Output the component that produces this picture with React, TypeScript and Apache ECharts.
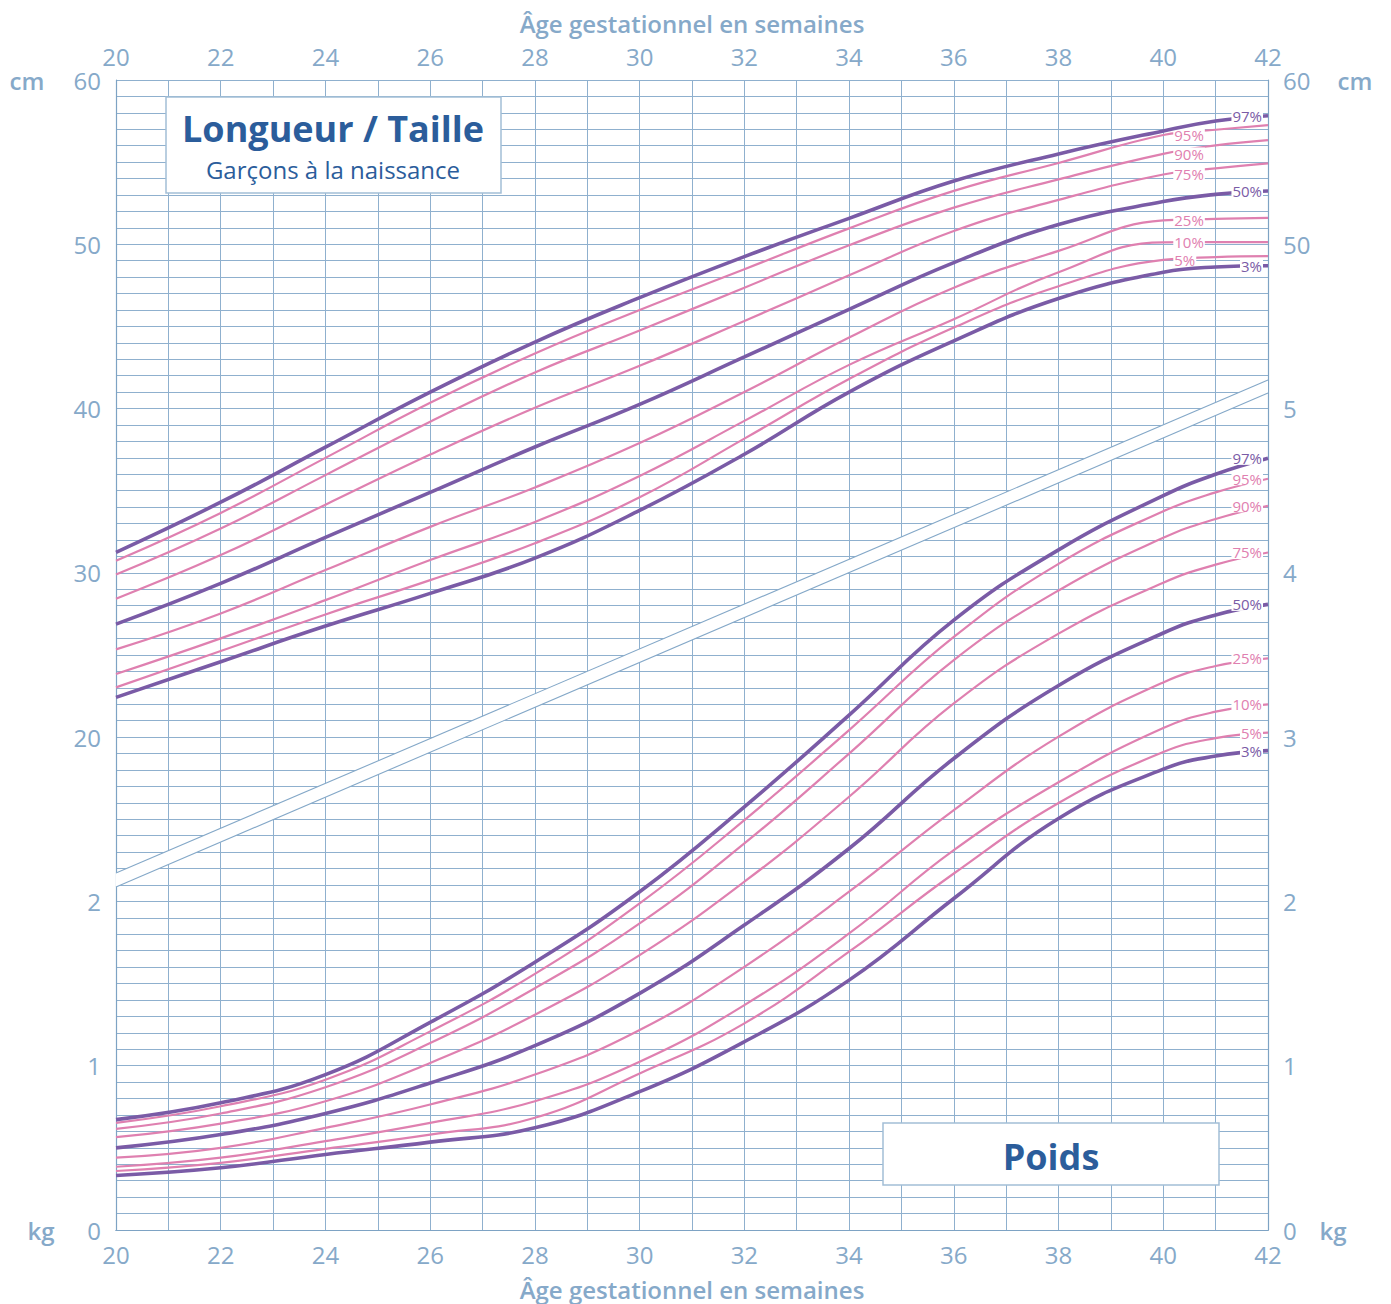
import React, { useEffect, useRef } from 'react';
import * as echarts from 'echarts';

// Gestational age (weeks) at which values were read
const weeks = [20, 22, 24, 26, 28, 30, 32, 34, 36, 38, 40, 41, 42];

// Length / Taille (cm)
const len97 = [31.25, 34.3, 37.65, 41.0, 44.05, 46.75, 49.25, 51.58, 53.85, 55.5, 56.9, 57.5, 57.82];
const len95 = [30.74, 33.65, 37.0, 40.35, 43.35, 46.0, 48.48, 50.97, 53.25, 54.95, 56.65, 56.97, 57.25];
const len90 = [29.9, 32.7, 35.95, 39.2, 42.2, 44.75, 47.36, 49.94, 52.23, 53.95, 55.5, 56.02, 56.34];
const len75 = [28.43, 31.08, 34.15, 37.2, 40.05, 42.6, 45.33, 48.11, 50.81, 52.7, 54.25, 54.62, 54.92];
const len50 = [26.88, 29.36, 32.16, 34.9, 37.66, 40.25, 43.14, 46.04, 48.88, 51.2, 52.6, 53.04, 53.24];
const len25 = [25.34, 27.53, 30.17, 32.8, 35.2, 37.9, 41.01, 44.32, 47.36, 49.6, 51.45, 51.55, 51.61];
const len10 = [23.84, 26.01, 28.34, 30.78, 33.1, 35.9, 39.25, 42.66, 45.44, 48.3, 50.12, 50.13, 50.13];
const len5 = [23.03, 25.24, 27.47, 29.56, 31.8, 34.6, 38.17, 41.8, 44.93, 47.45, 49.05, 49.22, 49.28];
const len3 = [22.42, 24.59, 26.76, 28.75, 30.9, 33.8, 37.22, 41.0, 44.12, 46.7, 48.3, 48.62, 48.69];

// Poids (kg)
const wt97 = [0.672, 0.774, 0.946, 1.264, 1.63, 2.059, 2.576, 3.134, 3.712, 4.14, 4.47, 4.6, 4.697];
const wt95 = [0.652, 0.753, 0.915, 1.209, 1.559, 1.988, 2.495, 3.043, 3.61, 4.055, 4.375, 4.49, 4.573];
const wt90 = [0.616, 0.709, 0.869, 1.138, 1.472, 1.866, 2.353, 2.9, 3.469, 3.893, 4.213, 4.328, 4.408];
const wt75 = [0.565, 0.648, 0.784, 1.017, 1.31, 1.673, 2.12, 2.637, 3.205, 3.63, 3.94, 4.05, 4.124];
const wt50 = [0.5, 0.581, 0.709, 0.895, 1.122, 1.44, 1.856, 2.322, 2.87, 3.314, 3.634, 3.744, 3.808];
const wt25 = [0.44, 0.5, 0.622, 0.764, 0.946, 1.217, 1.602, 2.059, 2.556, 3.003, 3.333, 3.433, 3.48];
const wt10 = [0.385, 0.44, 0.541, 0.652, 0.784, 1.024, 1.369, 1.805, 2.312, 2.725, 3.055, 3.155, 3.2];
const wt5 = [0.359, 0.409, 0.494, 0.581, 0.683, 0.953, 1.258, 1.694, 2.17, 2.599, 2.909, 2.994, 3.027];
const wt3 = [0.332, 0.379, 0.46, 0.535, 0.622, 0.842, 1.146, 1.521, 2.018, 2.505, 2.805, 2.885, 2.918];

const percentNames = ['97%', '95%', '90%', '75%', '50%', '25%', '10%', '5%', '3%'];
const lengthSets = [len97, len95, len90, len75, len50, len25, len10, len5, len3];
const weightSets = [wt97, wt95, wt90, wt75, wt50, wt25, wt10, wt5, wt3];
// percentile labels of the length block drawn before the end (others at the end)
const lengthInnerLabels = ['95%', '90%', '75%', '25%', '10%', '5%'];
const majorPercentiles = ['97%', '50%', '3%'];

// Tick labels on the shared vertical scale (0..7)
const leftTickLabels = ['0', '1', '2', '20', '30', '40', '50', '60'];
const rightTickLabels = ['0', '1', '2', '3', '4', '5', '50', '60'];

// Separating band (in shared units)
const bandWeeks = [20, 42];
const bandLower = [2.088, 5.095];
const bandUpper = [2.173, 5.174];

const cmToUnit = (c: number) => c / 10 + 1;

const PURPLE = '#7a5ba6';
const PINK = '#df80b0';
const GRID = '#8fb0ce';
const BORDER = '#7ea3c4';
const LABEL = '#86a9c9';
const DARK = '#2b5d9b';
const FONT = '"Open Sans", Lato, sans-serif';

function buildSeries(name: string, values: number[], isLength: boolean) {
  const major = majorPercentiles.includes(name);
  const color = major ? PURPLE : PINK;
  const inner = isLength && lengthInnerLabels.includes(name);
  const labelIndex = inner ? weeks.indexOf(40) : weeks.length - 1;
  const data = weeks.map((w, i) => {
    const v = isLength ? cmToUnit(values[i]) : values[i];
    if (i === labelIndex) {
      return {
        value: [w, v],
        label: {
          show: true,
          formatter: name,
          position: inner ? 'right' : 'left',
          distance: inner ? 10 : 5,
          color,
          fontSize: 15,
          lineHeight: 13,
          fontFamily: FONT,
          fontWeight: 400,
          backgroundColor: '#ffffff',
          padding: [0, 1, 0, 1],
        },
      };
    }
    return { value: [w, v] };
  });
  return {
    type: 'line',
    name: (isLength ? 'L' : 'W') + name,
    xAxisIndex: 0,
    yAxisIndex: 0,
    data,
    smooth: 0.45,
    showSymbol: true,
    symbol: 'circle',
    symbolSize: 0,
    silent: true,
    z: major ? 5 : 4,
    lineStyle: { color, width: major ? 3.6 : 2.2 },
    itemStyle: { color },
    label: { show: false },
  };
}

export default function App() {
  const ref = useRef<HTMLDivElement>(null);

  useEffect(() => {
    if (!ref.current) return;
    const chart = echarts.init(ref.current, undefined, { renderer: 'svg' });

    const series: any[] = [];
    series.push({
      type: 'custom',
      xAxisIndex: 0,
      yAxisIndex: 0,
      silent: true,
      z: 3,
      data: [
        [bandWeeks[0], bandLower[0], bandUpper[0]],
        [bandWeeks[1], bandLower[1], bandUpper[1]],
      ],
      encode: { x: 0, y: 1 },
      renderItem: (params: any, api: any) => {
        if (params.dataIndex !== 0) return null;
        const a = api.coord([bandWeeks[0], bandLower[0]]);
        const b = api.coord([bandWeeks[1], bandLower[1]]);
        const c = api.coord([bandWeeks[1], bandUpper[1]]);
        const d = api.coord([bandWeeks[0], bandUpper[0]]);
        return {
          type: 'group',
          children: [
            { type: 'polygon', shape: { points: [a, b, c, d] }, style: { fill: '#ffffff' } },
            { type: 'line', shape: { x1: a[0], y1: a[1], x2: b[0], y2: b[1] }, style: { stroke: '#84a8c8', lineWidth: 1.1 } },
            { type: 'line', shape: { x1: d[0], y1: d[1], x2: c[0], y2: c[1] }, style: { stroke: '#84a8c8', lineWidth: 1.1 } },
          ],
        };
      },
    });

    percentNames.forEach((n, i) => series.push(buildSeries(n, lengthSets[i], true)));
    percentNames.forEach((n, i) => series.push(buildSeries(n, weightSets[i], false)));

    const tickFmt = (labels: string[]) => (v: number) => {
      const r = Math.round(v * 10) / 10;
      return Number.isInteger(r) ? labels[r] ?? '' : '';
    };
    const xFmt = (v: number) => (Math.round(v) % 2 === 0 ? String(Math.round(v)) : '');

    const axisText = { color: LABEL, fontSize: 24, fontFamily: FONT };
    const nameText = { color: LABEL, fontSize: 24, fontFamily: FONT, fontWeight: 600 };

    const textEl = (text: string, x: number, y: number, font: string, fill: string, align = 'center') => ({
      type: 'text',
      z: 100,
      style: {
        text,
        x,
        y,
        font,
        fill,
        textAlign: align,
        textVerticalAlign: 'middle',
        align,
        verticalAlign: 'middle',
      },
    });

    chart.setOption({
      animation: false,
      textStyle: { fontFamily: FONT },
      grid: { left: 116, right: 123, top: 80, bottom: 74, containLabel: false, outerBoundsMode: 'none' },
      xAxis: [
        {
          type: 'value',
          min: 20,
          max: 42,
          interval: 1,
          position: 'bottom',
          axisLine: { show: true, lineStyle: { color: BORDER, width: 1.2 } },
          axisTick: { show: false },
          splitLine: { show: true, lineStyle: { color: GRID, width: 1 } },
          axisLabel: { ...axisText, formatter: xFmt, margin: 12 },
          name: 'Âge gestationnel en semaines',
          nameLocation: 'middle',
          nameGap: 47,
          nameTextStyle: nameText,
        },
        {
          type: 'value',
          min: 20,
          max: 42,
          interval: 1,
          position: 'top',
          axisLine: { show: true, lineStyle: { color: BORDER, width: 1.2 } },
          axisTick: { show: false },
          splitLine: { show: false },
          axisLabel: { ...axisText, formatter: xFmt, margin: 12 },
          name: 'Âge gestationnel en semaines',
          nameLocation: 'middle',
          nameGap: 45,
          nameTextStyle: nameText,
        },
      ],
      yAxis: [
        {
          type: 'value',
          min: 0,
          max: 7,
          interval: 0.1,
          position: 'left',
          axisLine: { show: true, lineStyle: { color: BORDER, width: 1.2 } },
          axisTick: { show: false },
          splitLine: { show: true, lineStyle: { color: GRID, width: 1 } },
          axisLabel: { ...axisText, formatter: tickFmt(leftTickLabels), margin: 15 },
        },
        {
          type: 'value',
          min: 0,
          max: 7,
          interval: 0.1,
          position: 'right',
          axisLine: { show: true, lineStyle: { color: BORDER, width: 1.2 } },
          axisTick: { show: false },
          splitLine: { show: false },
          axisLabel: { ...axisText, formatter: tickFmt(rightTickLabels), margin: 15 },
        },
      ],
      graphic: [
        textEl('cm', 27, 80, `600 24px ${FONT}`, LABEL),
        textEl('cm', 1355, 80, `600 24px ${FONT}`, LABEL),
        textEl('kg', 41, 1230, `600 24px ${FONT}`, LABEL),
        textEl('kg', 1333, 1230, `600 24px ${FONT}`, LABEL),
        {
          type: 'rect',
          z: 100,
          shape: { x: 166, y: 97, width: 335, height: 96 },
          style: { fill: '#ffffff', stroke: '#a3bed6', lineWidth: 1.5 },
        },
        textEl('Longueur / Taille', 333, 128, `700 36px ${FONT}`, DARK),
        textEl('Garçons à la naissance', 333, 169, `500 24px ${FONT}`, DARK),
        {
          type: 'rect',
          z: 100,
          shape: { x: 883, y: 1123, width: 336, height: 62 },
          style: { fill: '#ffffff', stroke: '#a3bed6', lineWidth: 1.5 },
        },
        textEl('Poids', 1051, 1156, `700 36px ${FONT}`, DARK),
      ],
      series,
    });

    return () => chart.dispose();
  }, []);

  return (
    <div
      ref={ref}
      style={{ position: 'absolute', left: 0, top: 0, width: 1391, height: 1304, background: '#ffffff' }}
    />
  );
}
